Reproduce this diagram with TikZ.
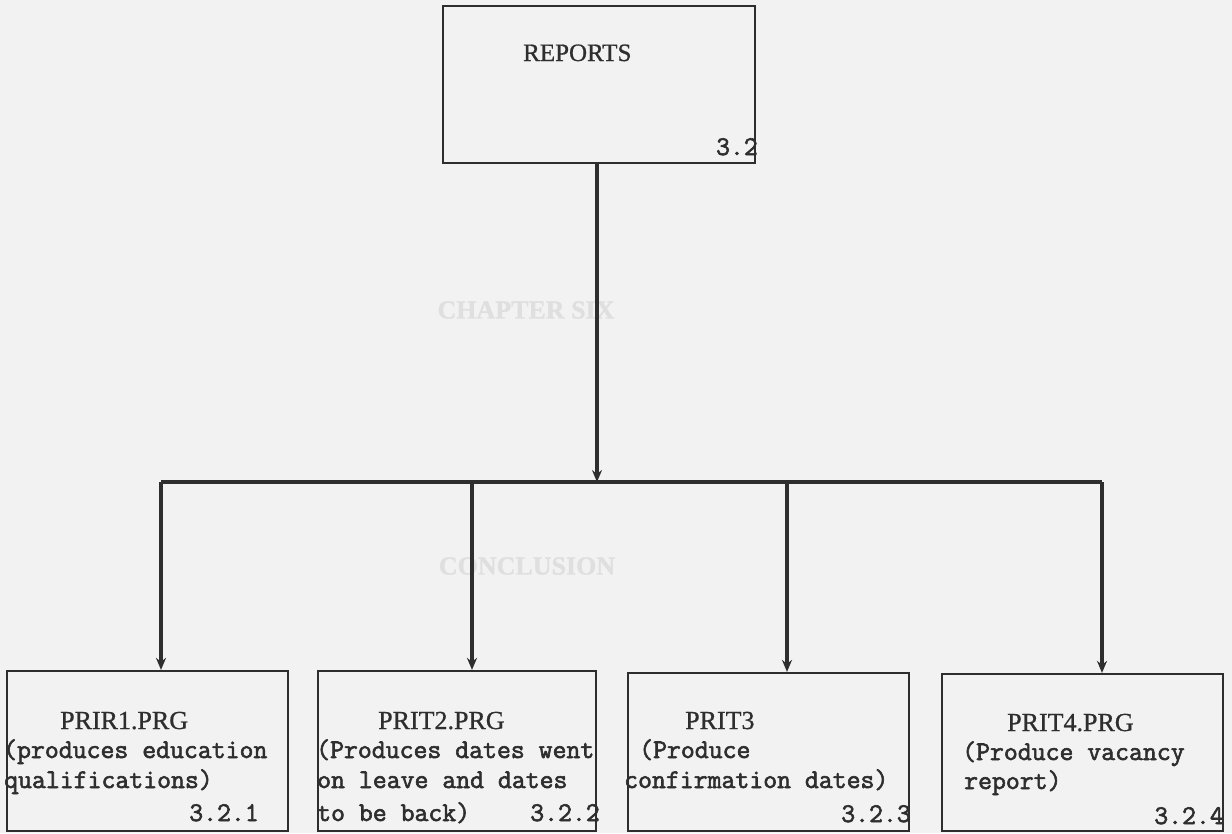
\documentclass[tikz,border=0pt]{standalone}
\usepackage{fontspec}
\usetikzlibrary{arrows.meta}
\newfontfamily\titlefont{Liberation Serif}[FakeBold=0.8]
\newfontfamily\bodyfont{Latin Modern Mono}[FakeBold=2.2]
\definecolor{paper}{HTML}{F2F2F2}
\definecolor{ink}{HTML}{2E2E2E}
\definecolor{ghost}{HTML}{DFDFDF}
\begin{document}
\begin{tikzpicture}[x=1pt,y=-1pt,
  box/.style={draw=ink,line width=2.2pt,inner sep=0pt,minimum width=#1},
  ttl/.style={inner sep=0pt,anchor=base west,text=ink,font=\titlefont\fontsize{26}{30}\selectfont},
  txt/.style={inner sep=0pt,anchor=base west,text=ink,font=\bodyfont\fontsize{27}{30}\selectfont},
  num/.style={inner sep=0pt,anchor=base east,text=ink,font=\bodyfont\fontsize{27}{30}\selectfont},
  ghosttext/.style={inner sep=0pt,text=ghost,font=\titlefont\bfseries\fontsize{26}{30}\selectfont},
  link/.style={draw=ink,line width=3.4pt},
  arrow/.style={link,-{Stealth[length=12pt,width=10pt]}}]
% page
\fill[paper] (0,0) rectangle (1232,833);
\useasboundingbox (0,0) rectangle (1232,833);
% faint headings
\node[ghosttext] (g1) at (526,310) {CHAPTER SIX};
\node[ghosttext] (g2) at (527,566) {CONCLUSION};
% boxes
\node[box=312pt,minimum height=157pt] (rep) at (599,84.5) {};
\node[box=281pt,minimum height=160pt] (b1) at (147.5,751) {};
\node[box=278pt,minimum height=160pt] (b2) at (457,751) {};
\node[box=281pt,minimum height=158pt] (b3) at (768.5,752) {};
\node[box=281pt,minimum height=157pt] (b4) at (1082.5,752.5) {};
% top box text
\node[ttl,font=\titlefont\fontsize{25}{30}\selectfont] (repT) at (523,61) {REPORTS};
\node[num] (repN) at (758,155) {3.2};
% box 1
\node[ttl] (t1) at (60,729) {PRIR1.PRG};
\node[txt] (t1a) at (3,758) {(produces education};
\node[txt] (t1b) at (4,788) {qualifications)};
\node[num] (n1) at (259,821) {3.2.1};
% box 2
\node[ttl] (t2) at (378,729) {PRIT2.PRG};
\node[txt] (t2a) at (316,758) {(Produces dates went};
\node[txt] (t2b) at (317,788) {on leave and dates};
\node[txt] (t2c) at (317,821) {to be back)};
\node[num] (n2) at (600,821) {3.2.2};
% box 3
\node[ttl] (t3) at (685,729) {PRIT3};
\node[txt] (t3a) at (639,758) {(Produce};
\node[txt] (t3b) at (624,788) {confirmation dates)};
\node[num] (n3) at (911,822) {3.2.3};
% box 4
\node[ttl] (t4) at (1007,731) {PRIT4.PRG};
\node[txt] (t4a) at (962,760) {(Produce vacancy};
\node[txt] (t4b) at (964,789) {report)};
\node[num] (n4) at (1224,824) {3.2.4};
% connectors
\coordinate (hub) at (597,482);
\coordinate (d1) at (161,482);
\coordinate (d2) at (472,482);
\coordinate (d3) at (787,482);
\coordinate (d4) at (1102,482);
\draw[arrow] (rep.south -| hub) -- (hub);
\draw[link] (d1) -- (d4);
\draw[arrow] (d1) -- (d1 |- b1.north);
\draw[arrow] (d2) -- (d2 |- b2.north);
\draw[arrow] (d3) -- (d3 |- b3.north);
\draw[arrow] (d4) -- (d4 |- b4.north);
\end{tikzpicture}
\end{document}
